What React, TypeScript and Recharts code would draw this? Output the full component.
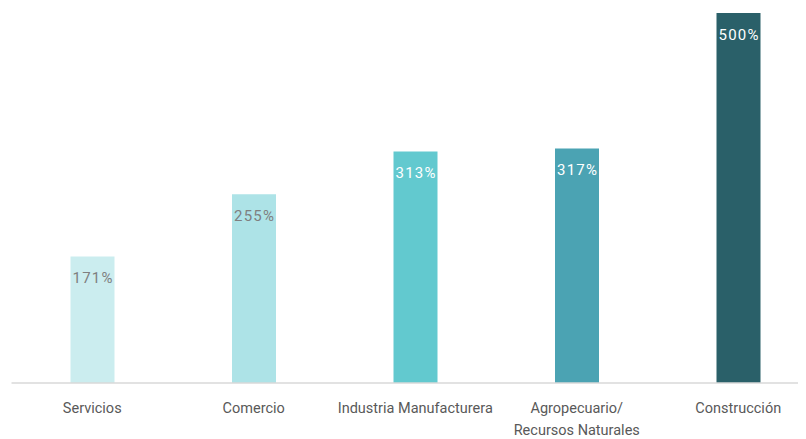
import { BarChart, Bar, XAxis, YAxis, Cell, LabelList } from "recharts";

const sectors = ["Servicios", "Comercio", "Industria Manufacturera", "Agropecuario/\nRecursos Naturales", "Construcción"];
const growth = [171, 255, 313, 317, 500];
const barColors = ["#CBEDEF", "#ADE3E7", "#62C9CF", "#4BA3B3", "#2A6069"];
const labelColors = ["#7F7F7F", "#7F7F7F", "#FFFFFF", "#FFFFFF", "#FFFFFF"];

const data = sectors.map((s, i) => ({ sector: s, value: growth[i] }));

const FONT = "Roboto, sans-serif";

function SectorTick({ x, y, payload }: any) {
  const lines = String(payload.value).split("\n");
  return (
    <text x={x} y={y} textAnchor="middle" fill="#595959" fontSize={14.5} fontFamily={FONT}>
      {lines.map((l, i) => (
        <tspan key={i} x={x} dy={22}>
          {l}
        </tspan>
      ))}
    </text>
  );
}

function BarLabel(props: any) {
  const { x, y, width, value, index } = props;
  return (
    <text
      x={x + width / 2 + 0.6}
      y={y + 27}
      textAnchor="middle"
      fill={labelColors[index]}
      fontSize={15}
      letterSpacing={1.2}
      fontFamily={FONT}
    >
      {value}%
    </text>
  );
}

export default function App() {
  return (
    <div style={{ width: 798, height: 431, background: "#fff" }}>
      <BarChart
        width={798}
        height={431}
        data={data}
        margin={{ top: 5, right: 3, left: 3.5, bottom: 0 }}
      >
        <XAxis
          dataKey="sector"
          interval={0}
          tick={<SectorTick />}
          tickLine={false}
          axisLine={{ stroke: "#D9D9D9", strokeWidth: 1.5 }}
          height={56}
          padding={{ left: 0, right: -16 }}
        />
        <YAxis hide domain={[0, 500]} />
        <Bar dataKey="value" barSize={44} isAnimationActive={false}>
          {data.map((d, i) => (
            <Cell key={d.sector} fill={barColors[i]} />
          ))}
          <LabelList dataKey="value" content={<BarLabel />} />
        </Bar>
      </BarChart>
    </div>
  );
}
